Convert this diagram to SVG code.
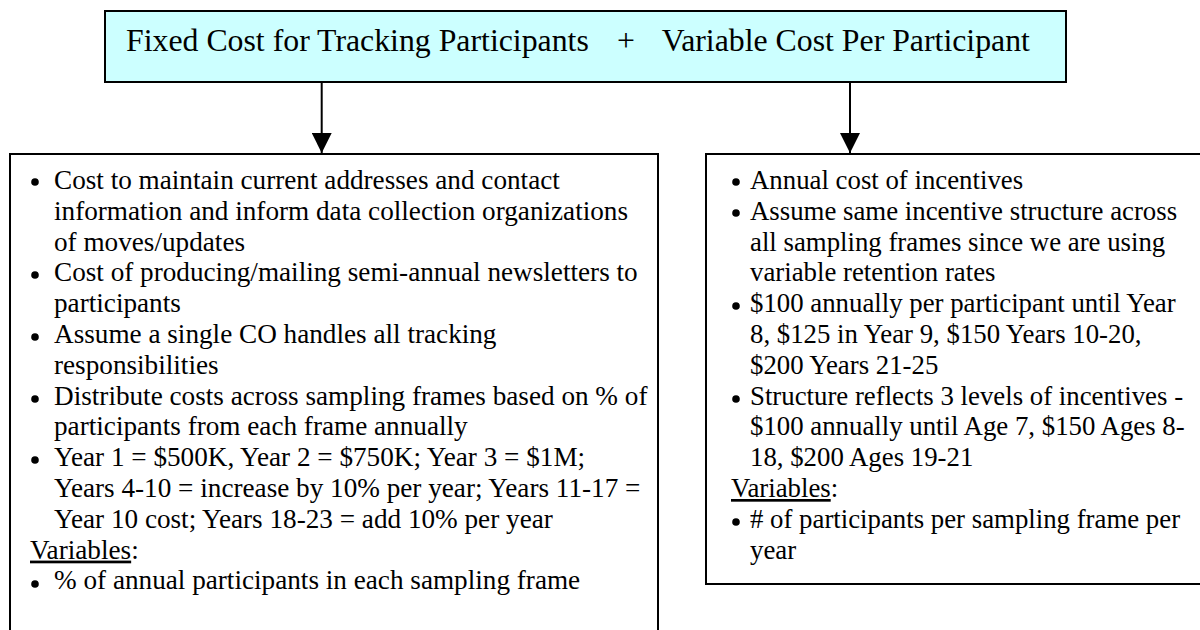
<svg xmlns="http://www.w3.org/2000/svg" width="1200" height="630" viewBox="0 0 1200 630">
<style>
.box{fill:#ffffff;stroke:#000000;stroke-width:2}
.top{fill:#ccffff;stroke:#000000;stroke-width:2}
.t{font-family:"Liberation Serif","Times New Roman",serif;font-size:27.2px;fill:#000000}
.r{font-size:26.8px}
.title{font-family:"Liberation Serif","Times New Roman",serif;font-size:31.8px;fill:#000000}
.b{fill:#000000}
.conn{stroke:#000000;stroke-width:2;fill:none}
</style>
<defs>
<marker id="ah" viewBox="0 0 20 20" markerWidth="20" markerHeight="20" markerUnits="userSpaceOnUse" refX="20" refY="10" orient="auto">
<path d="M0,0 L20,10 L0,20 z" fill="#000000"/>
</marker>
</defs>
<rect width="1200" height="630" fill="#ffffff"/>
<g id="top-node">
<rect class="top" x="105" y="11" width="961" height="71"/>
<text class="title" x="126" y="51">Fixed Cost for Tracking Participants</text>
<text class="title" x="617" y="51">+</text>
<text class="title" x="661.7" y="51">Variable Cost Per Participant</text>
</g>
<g id="fixed-node">
<rect class="box" x="10" y="154" width="648" height="490"/>
<circle class="b" cx="35" cy="182" r="3.8"/>
<circle class="b" cx="35" cy="275" r="3.8"/>
<circle class="b" cx="35" cy="337" r="3.8"/>
<circle class="b" cx="35" cy="399" r="3.8"/>
<circle class="b" cx="35" cy="460" r="3.8"/>
<circle class="b" cx="35" cy="584" r="3.8"/>
<text class="t" x="54" y="189">Cost to maintain current addresses and contact</text>
<text class="t" x="54" y="219.8">information and inform data collection organizations</text>
<text class="t" x="54" y="250.6">of moves/updates</text>
<text class="t" x="54" y="281.4">Cost of producing/mailing semi-annual newsletters to</text>
<text class="t" x="54" y="312.2">participants</text>
<text class="t" x="54" y="343">Assume a single CO handles all tracking</text>
<text class="t" x="54" y="373.8">responsibilities</text>
<text class="t" x="54" y="404.6">Distribute costs across sampling frames based on % of</text>
<text class="t" x="54" y="435.4">participants from each frame annually</text>
<text class="t" x="54" y="466.2">Year 1 = $500K, Year 2 = $750K; Year 3 = $1M;</text>
<text class="t" x="54" y="497">Years 4-10 = increase by 10% per year; Years 11-17 =</text>
<text class="t" x="54" y="527.8">Year 10 cost; Years 18-23 = add 10% per year</text>
<text class="t" x="30" y="558.6"><tspan text-decoration="underline">Variables</tspan>:</text>
<text class="t" x="54" y="589.4">% of annual participants in each sampling frame</text>
</g>
<g id="variable-node">
<rect class="box" x="706" y="154" width="500" height="430"/>
<circle class="b" cx="736" cy="182" r="3.8"/>
<circle class="b" cx="736" cy="213" r="3.8"/>
<circle class="b" cx="736" cy="306" r="3.8"/>
<circle class="b" cx="736" cy="399" r="3.8"/>
<circle class="b" cx="736" cy="522" r="3.8"/>
<text class="t r" x="750" y="189">Annual cost of incentives</text>
<text class="t r" x="750" y="219.8">Assume same incentive structure across</text>
<text class="t r" x="750" y="250.6">all sampling frames since we are using</text>
<text class="t r" x="750" y="281.4">variable retention rates</text>
<text class="t r" x="750" y="312.2">$100 annually per participant until Year</text>
<text class="t r" x="750" y="343">8, $125 in Year 9, $150 Years 10-20,</text>
<text class="t r" x="750" y="373.8">$200 Years 21-25</text>
<text class="t r" x="750" y="404.6">Structure reflects 3 levels of incentives -</text>
<text class="t r" x="750" y="435.4">$100 annually until Age 7, $150 Ages 8-</text>
<text class="t r" x="750" y="466.2">18, $200 Ages 19-21</text>
<text class="t r" x="731" y="497"><tspan text-decoration="underline">Variables</tspan>:</text>
<text class="t r" x="750" y="527.8"># of participants per sampling frame per</text>
<text class="t r" x="750" y="558.6">year</text>
</g>
<g id="connectors">
<line class="conn" x1="321.7" y1="82" x2="321.7" y2="153" marker-end="url(#ah)"/>
<line class="conn" x1="850" y1="82" x2="850" y2="153" marker-end="url(#ah)"/>
</g>
</svg>
